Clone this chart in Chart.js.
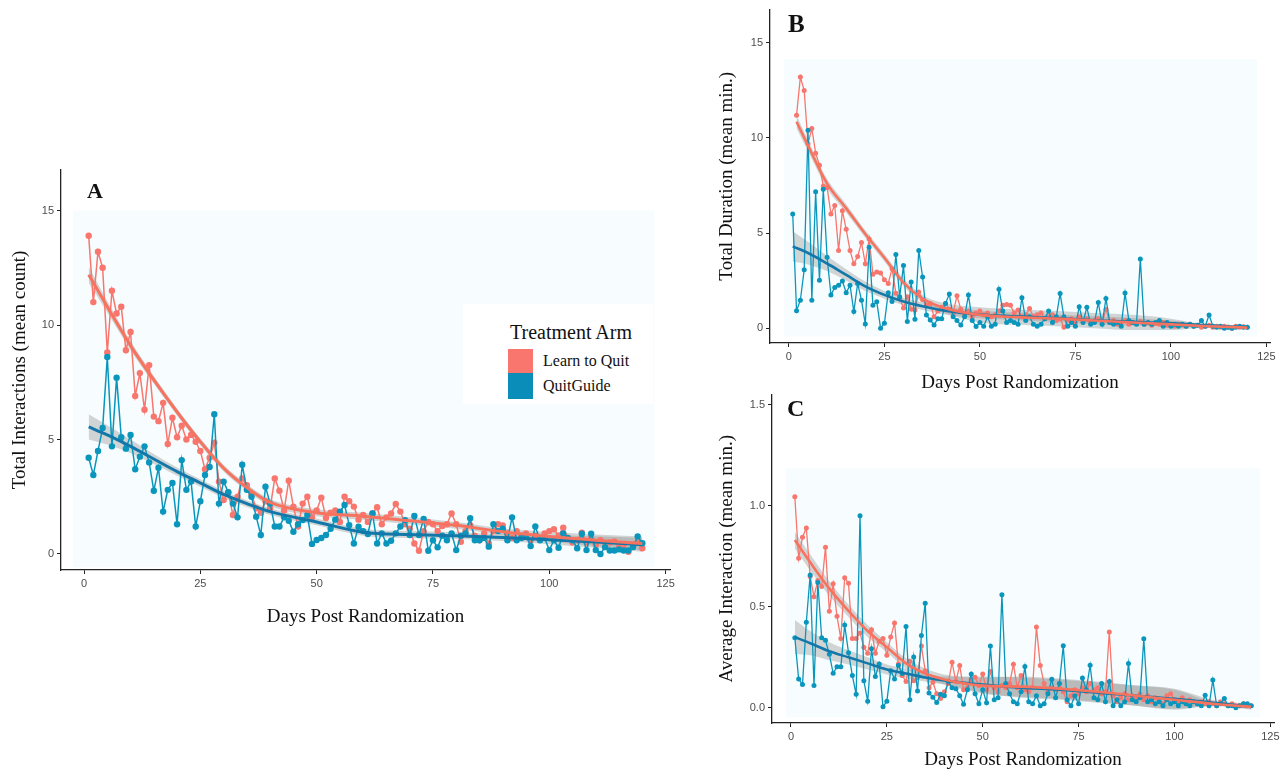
<!DOCTYPE html>
<html>
<head>
<meta charset="utf-8">
<script src="https://cdn.jsdelivr.net/npm/chart.js@4.4.1/dist/chart.umd.min.js"></script>
<style>
  body { margin: 0; background: #fff; width: 1285px; height: 773px; position: relative; overflow: hidden; }
  canvas { position: absolute; }
  .txt { position: absolute; font-family: 'Liberation Serif', 'Times New Roman', serif; color: #111; white-space: nowrap; }
  .tag { font-weight: bold; }
  .key { position: absolute; }
</style>
</head>
<body>
<canvas id="chartA" width="690" height="640" style="left:0;top:0;width:690px;height:640px"></canvas>
<canvas id="chartB" width="585" height="400" style="left:700px;top:0;width:585px;height:400px"></canvas>
<canvas id="chartC" width="585" height="388" style="left:700px;top:385px;width:585px;height:388px"></canvas>

<div class="txt tag" style="left:87px;top:180px;font-size:22px;line-height:22px">A</div>
<div class="txt tag" style="left:788px;top:11px;font-size:25px;line-height:25px">B</div>
<div class="txt tag" style="left:787px;top:396px;font-size:24px;line-height:24px">C</div>

<div id="legend" style="position:absolute;left:463px;top:304px;width:190px;height:100px;background:#fff"></div>
<div class="txt" style="left:510px;top:322px;font-size:20px;line-height:20px">Treatment Arm</div>
<div class="key" style="left:508px;top:349px;width:25px;height:24px;background:#F8766D"></div>
<div class="key" style="left:508px;top:373px;width:25px;height:26px;background:#0A8DB8"></div>
<div class="txt" style="left:543px;top:353px;font-size:16px;line-height:16px">Learn to Quit</div>
<div class="txt" style="left:543px;top:378px;font-size:16px;line-height:16px">QuitGuide</div>

<script>
const days = Array.from({ length: 120 }, (_, i) => i + 1);
const xTicks = [0, 25, 50, 75, 100, 125];
const yTicksCount = [0, 5, 10, 15];
const yTicksAvg = [0, 0.5, 1.0, 1.5];
const fitDays = [1, 5, 10, 15, 20, 25, 30, 35, 40, 50, 60, 70, 80, 90, 100, 110, 120];
const fitDaysFrom2 = [2, 5, 10, 15, 20, 25, 30, 35, 40, 50, 60, 70, 80, 90, 100, 110, 120];

// A: total interactions (mean count)
const interLearn = [
  13.9, 11.0, 13.2, 12.5, 8.8, 11.5, 10.5, 10.8, 8.9, 9.7,
  6.9, 7.9, 6.3, 8.25, 6.0, 5.8, 6.6, 4.8, 5.95, 5.1,
  5.6, 5.0, 5.2, 4.9, 4.5, 3.7, 4.2, 4.86, 3.16, 2.36,
  2.7, 1.7, 2.5, 3.3, 3.0, 2.6, 2.0, 1.8, 2.3, 2.0,
  3.3, 2.76, 1.9, 3.2, 2.07, 1.2, 2.2, 2.5, 1.6, 1.9,
  2.46, 1.57, 1.8, 1.9, 1.4, 2.5, 2.3, 2.07, 1.5, 1.7,
  1.4, 1.77, 2.04, 1.3, 1.6, 1.77, 2.18, 1.85, 1.3, 1.1,
  0.46, 0.14, 1.0, 1.4, 1.3, 1.0, 1.22, 1.3, 1.77, 1.3,
  0.53, 1.0, 1.26, 0.8, 0.6, 0.9, 0.46, 1.0, 1.3, 1.25,
  0.9, 0.7, 1.0, 0.8, 0.9, 0.6, 0.8, 0.7, 0.9, 1.0,
  1.08, 0.8, 1.15, 0.7, 0.5, 0.6, 0.93, 0.5, 0.7, 0.4,
  0.6, 0.3, 0.5, 0.55, 0.3, 0.4, 0.1, 0.4, 0.5, 0.25
];
const interQuit = [
  4.2, 3.45, 4.5, 5.5, 8.6, 4.7, 7.7, 5.1, 4.6, 5.2,
  3.7, 4.25, 4.7, 4.0, 2.76, 3.77, 1.85, 2.8, 3.1, 1.3,
  4.1, 2.8, 3.16, 1.2, 2.3, 3.45, 3.8, 6.1, 2.2, 3.16,
  2.7, 2.2, 1.6, 3.9, 2.8, 2.5, 1.63, 0.83, 2.94, 2.2,
  1.2, 1.2, 1.6, 1.45, 0.97, 1.3, 1.48, 1.7, 0.44, 0.61,
  0.7, 0.83, 1.1, 1.5, 1.85, 2.14, 1.26, 0.46, 1.19, 1.0,
  0.87, 1.77, 0.46, 0.9, 0.46, 0.58, 0.9, 1.2, 1.48, 0.83,
  1.66, 0.83, 1.53, 0.14, 0.6, 0.29, 0.8, 0.6, 0.9, 0.17,
  0.8, 0.9, 1.56, 0.6, 0.6, 0.7, 0.32, 1.3, 1.0, 1.1,
  0.6, 1.6, 0.6, 0.7, 0.8, 0.35, 1.2, 0.6, 0.7, 0.17,
  0.6, 0.27, 0.9, 0.7, 0.6, 0.25, 0.88, 0.17, 0.88, 0.17,
  0.0, 0.3, 0.15, 0.15, 0.2, 0.15, 0.15, 0.3, 0.77, 0.47
];
const interLearnFit = [12.2, 10.8, 9.1, 7.6, 6.2, 4.9, 3.75, 2.9, 2.25, 1.8, 1.65, 1.45, 1.25, 0.97, 0.76, 0.6, 0.46];
const interQuitFit = [5.55, 5.2, 4.7, 4.15, 3.6, 3.1, 2.6, 2.2, 1.85, 1.4, 0.95, 0.85, 0.8, 0.72, 0.62, 0.52, 0.4];
const interLearnCi = [0.35, 0.25, 0.2, 0.17, 0.15, 0.15, 0.15, 0.15, 0.15, 0.15, 0.15, 0.15, 0.15, 0.15, 0.2, 0.25, 0.3];
const interQuitCi = [0.55, 0.42, 0.3, 0.22, 0.18, 0.16, 0.15, 0.15, 0.15, 0.15, 0.15, 0.15, 0.15, 0.15, 0.2, 0.25, 0.3];

// B: total duration (mean min.)
const durLearn = [
  null, 11.2, 13.2, 12.5, 9.7, 10.5, 9.2, 8.57, 7.47, 7.4,
  6.0, 6.45, 4.08, 6.17, 5.2, 4.08, 3.39, 3.77, 4.5, 3.39,
  4.69, 2.83, 2.95, 2.9, 2.55, 2.35, 3.13, 1.84, 1.57, 1.06,
  1.65, 1.0, 0.95, 1.9, 1.5, 1.2, 1.3, 0.6, 0.9, 1.1,
  1.3, 1.0, 0.8, 1.7, 1.0, 0.7, 0.9, 0.6, 0.8, 0.9,
  0.7, 0.8, 0.6, 0.7, 0.9, 1.2, 1.25, 1.2, 0.8, 0.95,
  0.6, 0.7, 1.03, 0.6, 0.7, 0.8, 0.5, 0.6, 0.7, 0.4,
  0.5, 0.05, 0.4, 0.5, 0.3, 0.6, 0.4, 0.5, 0.3, 0.4,
  0.5, 0.3, 0.98, 0.3, 0.4, 0.2, 0.3, 0.4, 0.2, 0.3,
  0.25, 0.35, 0.2, 0.3, 0.15, 0.25, 0.2, 0.3, 0.15, 0.2,
  0.1, 0.2, 0.15, 0.1, 0.2, 0.1, 0.15, 0.05, 0.1, 0.15,
  0.05, 0.1, 0.05, 0.1, 0.05, 0.0, 0.1, 0.05, 0.08, 0.05
];
const durQuit = [
  6.0, 0.92, 1.47, 3.07, 10.4, 1.47, 7.17, 2.52, 7.3, 3.73,
  1.74, 2.14, 2.26, 2.48, 1.86, 2.26, 0.87, 2.35, 1.47, 0.22,
  4.26, 1.21, 1.39, 0.0, 0.26, 1.86, 1.4, 3.87, 1.65, 3.3,
  0.35, 2.43, 0.47, 4.08, 2.69, 0.69, 0.43, 0.17, 0.5, 0.5,
  1.3, 1.79, 0.6, 0.4, 0.17, 0.6, 1.74, 0.4, 0.09, 0.3,
  0.1, 0.6, 0.1, 0.2, 2.05, 0.9, 0.3, 0.4, 0.3, 0.2,
  1.6, 0.4, 0.6, 0.2, 0.1, 0.2, 0.5, 0.9, 0.3, 0.6,
  1.82, 0.6, 0.1, 0.3, 0.1, 1.13, 0.3, 1.1, 0.2, 0.3,
  1.35, 0.2, 1.56, 0.3, 0.2, 0.3, 0.1, 1.85, 0.4, 0.3,
  0.2, 3.64, 0.2, 0.3, 0.2, 0.3, 0.4, 0.1, 0.3, 0.1,
  0.2, 0.1, 0.2, 0.1, 0.2, 0.1, 0.15, 0.4, 0.1, 0.69,
  0.1, 0.05, 0.1, 0.0, 0.05, 0.0, 0.05, 0.1, 0.05, 0.05
];
const durLearnFit = [10.85, 9.6, 7.6, 6.3, 4.95, 3.7, 2.4, 1.55, 1.1, 0.7, 0.58, 0.5, 0.4, 0.3, 0.2, 0.1, 0.03];
const durQuitFit = [4.3, 3.95, 3.4, 2.8, 2.2, 1.75, 1.4, 1.15, 0.95, 0.72, 0.62, 0.52, 0.42, 0.33, 0.25, 0.14, 0.04];
const durLearnCi = [0.35, 0.3, 0.25, 0.22, 0.2, 0.2, 0.2, 0.2, 0.25, 0.4, 0.4, 0.4, 0.4, 0.4, 0.3, 0.05, 0.02];
const durQuitCi = [0.8, 0.6, 0.4, 0.3, 0.25, 0.2, 0.2, 0.2, 0.2, 0.2, 0.2, 0.2, 0.2, 0.2, 0.15, 0.08, 0.05];

// C: average interaction (mean min.)
const avgLearn = [
  1.044, 0.74, 0.844, 0.89, 0.65, 0.55, 0.63, 0.60, 0.795, 0.478,
  0.614, 0.453, 0.343, 0.644, 0.616, 0.343, 0.343, 0.37, 0.30, 0.27,
  0.386, 0.27, 0.33, 0.343, 0.26, 0.35, 0.42, 0.217, 0.16, 0.13,
  0.23, 0.134, 0.15, 0.306, 0.184, 0.1, 0.127, 0.07, 0.046, 0.08,
  0.12, 0.225, 0.13, 0.21, 0.09, 0.1, 0.14, 0.152, 0.11, 0.168,
  0.09, 0.18, 0.1, 0.08, 0.11, 0.1, 0.12, 0.216, 0.1, 0.16,
  0.09, 0.08, 0.1, 0.4, 0.21, 0.12, 0.08, 0.1, 0.09, 0.1,
  0.08, 0.03, 0.06, 0.09, 0.07, 0.1, 0.08, 0.12, 0.09, 0.1,
  0.07, 0.08, 0.375, 0.06, 0.03, 0.05, 0.07, 0.04, 0.06, 0.05,
  0.07, 0.04, 0.06, 0.03, 0.05, 0.04, 0.02, 0.06, 0.07, 0.04,
  0.03, 0.05, 0.02, 0.04, 0.03, 0.02, 0.03, 0.02, 0.03, 0.02,
  0.01, 0.03, 0.02, 0.01, 0.02, 0.01, 0.01, 0.02, 0.01, 0.01
];
const avgQuit = [
  0.347, 0.143, 0.115, 0.424, 0.657, 0.11, 0.62, 0.347, 0.334, 0.265,
  0.171, 0.203, 0.203, 0.41, 0.273, 0.16, 0.067, 0.95, 0.134, 0.033,
  0.293, 0.155, 0.217, 0.005, 0.033, 0.184, 0.143, 0.21, 0.17, 0.402,
  0.04, 0.252, 0.083, 0.358, 0.518, 0.073, 0.053, 0.026, 0.067, 0.06,
  0.13, 0.1, 0.095, 0.06, 0.018, 0.09, 0.168, 0.07, 0.02, 0.09,
  0.025, 0.306, 0.04, 0.05, 0.559, 0.12, 0.07, 0.03, 0.02, 0.08,
  0.204, 0.03, 0.02, 0.06, 0.01, 0.02, 0.07, 0.142, 0.05, 0.12,
  0.307, 0.04, 0.01, 0.06, 0.02, 0.148, 0.09, 0.211, 0.05, 0.04,
  0.12, 0.03, 0.13, 0.01, 0.04, 0.01, 0.03, 0.22, 0.04, 0.03,
  0.05, 0.342, 0.03, 0.04, 0.02, 0.03, 0.01, 0.04, 0.02, 0.03,
  0.01, 0.03, 0.02, 0.01, 0.03, 0.02, 0.01, 0.062, 0.01, 0.138,
  0.01, 0.02, 0.046, 0.01, 0.01, 0.0, 0.01, 0.02, 0.02, 0.01
];
const avgLearnFit = [0.83, 0.72, 0.59, 0.48, 0.38, 0.3, 0.22, 0.17, 0.14, 0.11, 0.105, 0.095, 0.08, 0.06, 0.04, 0.02, 0.005];
const avgQuitFit = [0.35, 0.32, 0.28, 0.25, 0.22, 0.19, 0.17, 0.15, 0.135, 0.115, 0.1, 0.09, 0.075, 0.06, 0.045, 0.025, 0.005];
const avgLearnCi = [0.04, 0.04, 0.035, 0.03, 0.03, 0.025, 0.025, 0.025, 0.025, 0.04, 0.05, 0.05, 0.05, 0.05, 0.05, 0.01, 0.01];
const avgQuitCi = [0.085, 0.06, 0.045, 0.035, 0.03, 0.025, 0.025, 0.02, 0.02, 0.04, 0.05, 0.05, 0.05, 0.05, 0.05, 0.015, 0.015];

const RED = '#F8766D';
const RED_FIT = '#F6735F';
const BLUE = '#0A96BC';
const BLUE_FIT = '#1378A9';
const BAND = 'rgba(150,150,150,0.4)';
const AXIS = '#222';
const TICK = '#4d4d4d';
const SERIF = "'Liberation Serif', 'Times New Roman', serif";
const SANS = "'Liberation Sans', Arial, sans-serif";

const pts = (xs, ys, ci = null, sign = 0) =>
  xs.map((x, i) => ({ x, y: ys[i] === null ? null : ys[i] + (ci ? sign * ci[i] : 0) }));

// light panel rectangle behind the data
const panelBg = {
  id: 'panelBg',
  beforeDraw(chart, args, opts) {
    const { ctx, scales: { x, y } } = chart;
    const [x0, x1, y0, y1] = opts.rect;
    const px0 = x.getPixelForValue(x0), px1 = x.getPixelForValue(x1);
    const py0 = y.getPixelForValue(y1), py1 = y.getPixelForValue(y0);
    ctx.save();
    ctx.fillStyle = '#F7FDFE';
    ctx.fillRect(px0, py0, px1 - px0, py1 - py0);
    ctx.restore();
  }
};

function band(xs, fit, ci, sign, fill) {
  return {
    data: pts(xs, fit, ci, sign),
    borderWidth: 0, pointRadius: 0, backgroundColor: BAND,
    cubicInterpolationMode: 'monotone', fill: fill, order: 10
  };
}

function makeChart(id, p) {
  const learnFitDays = p.learnFitDays || fitDays;
  return new Chart(document.getElementById(id), {
    type: 'line',
    data: {
      datasets: [
        band(learnFitDays, p.learnFit, p.learnCi, 1, false),
        band(learnFitDays, p.learnFit, p.learnCi, -1, '-1'),
        band(fitDays, p.quitFit, p.quitCi, 1, false),
        band(fitDays, p.quitFit, p.quitCi, -1, '-1'),
        {
          label: 'Learn to Quit', data: pts(days, p.learn), order: 5,
          borderColor: RED, backgroundColor: RED, borderWidth: p.lw,
          pointRadius: p.r, pointBorderWidth: 0, pointBackgroundColor: RED, tension: 0
        },
        {
          label: 'QuitGuide', data: pts(days, p.quit), order: 4,
          borderColor: BLUE, backgroundColor: BLUE, borderWidth: p.lw,
          pointRadius: p.r, pointBorderWidth: 0, pointBackgroundColor: BLUE, tension: 0
        },
        {
          data: pts(fitDays, p.quitFit), order: 2, borderColor: BLUE_FIT, borderWidth: p.fw,
          pointRadius: 0, cubicInterpolationMode: 'monotone', fill: false
        },
        {
          data: pts(learnFitDays, p.learnFit), order: 1, borderColor: RED_FIT, borderWidth: p.fw,
          pointRadius: 0, cubicInterpolationMode: 'monotone', fill: false
        }
      ]
    },
    options: {
      responsive: false,
      animation: false,
      events: [],
      layout: { padding: { left: 0, top: p.top, right: p.right, bottom: 0 } },
      plugins: {
        legend: { display: false },
        tooltip: { enabled: false },
        panelBg: { rect: p.panel }
      },
      scales: {
        x: {
          type: 'linear', min: -4.95, max: 125.95,
          afterBuildTicks: (s) => { s.ticks = xTicks.map(v => ({ value: v })); },
          afterFit: (s) => { s.height = p.xHeight; },
          grid: { display: true, drawOnChartArea: false, drawTicks: true, tickLength: 4, color: AXIS, lineWidth: 1 },
          border: { display: true, color: AXIS, width: 1.3 },
          ticks: { color: TICK, font: { family: SANS, size: 11 }, padding: 3, maxRotation: 0, autoSkip: false },
          title: {
            display: true, text: 'Days Post Randomization', color: '#111',
            font: { family: SERIF, size: 19 }, padding: { top: 0, bottom: p.xTitlePad }
          }
        },
        y: {
          type: 'linear', min: p.yMin, max: p.yMax,
          afterBuildTicks: (s) => { s.ticks = p.yTicks.map(v => ({ value: v })); },
          afterFit: (s) => { s.width = p.left; },
          grid: { display: true, drawOnChartArea: false, drawTicks: true, tickLength: 4, color: AXIS, lineWidth: 1 },
          border: { display: true, color: AXIS, width: 1.3 },
          ticks: {
            color: TICK, font: { family: SANS, size: 11 }, padding: 3, autoSkip: false,
            callback: p.tickFmt || ((v) => String(v))
          },
          title: {
            display: true, text: p.yTitle, color: '#111',
            font: { family: SERIF, size: 19 }, padding: { top: p.yTitlePad, bottom: 0 }
          }
        }
      }
    },
    plugins: [panelBg]
  });
}

makeChart('chartA', {
  learn: interLearn, quit: interQuit,
  learnFit: interLearnFit, quitFit: interQuitFit, learnCi: interLearnCi, quitCi: interQuitCi,
  yMin: -0.7, yMax: 16.77, yTicks: yTicksCount, yTitle: 'Total Interactions (mean count)',
  left: 61, top: 170, right: 20, xHeight: 70, xTitlePad: 12, yTitlePad: 9,
  r: 3.2, lw: 1.5, fw: 3, panel: [-2.4, 122.6, -0.57, 15.0]
});

makeChart('chartB', {
  learn: durLearn, quit: durQuit, learnFitDays: fitDaysFrom2,
  learnFit: durLearnFit, quitFit: durQuitFit, learnCi: durLearnCi, quitCi: durQuitCi,
  yMin: -0.78, yMax: 16.75, yTicks: yTicksCount, yTitle: 'Total Duration (mean min.)',
  left: 70, top: 7, right: 15, xHeight: 57, xTitlePad: 6, yTitlePad: 16,
  r: 2.5, lw: 1.3, fw: 2.6, panel: [-1.3, 122.6, -0.44, 14.16]
});

makeChart('chartC', {
  learn: avgLearn, quit: avgQuit,
  learnFit: avgLearnFit, quitFit: avgQuitFit, learnCi: avgLearnCi, quitCi: avgQuitCi,
  yMin: -0.075, yMax: 1.55, yTicks: yTicksAvg, yTitle: 'Average Interaction (mean min.)',
  tickFmt: (v) => v.toFixed(1),
  left: 72, top: 5, right: 11, xHeight: 50, xTitlePad: 2, yTitlePad: 16,
  r: 2.5, lw: 1.3, fw: 2.6, panel: [-1.3, 122.4, -0.047, 1.186]
});
</script>
</body>
</html>
